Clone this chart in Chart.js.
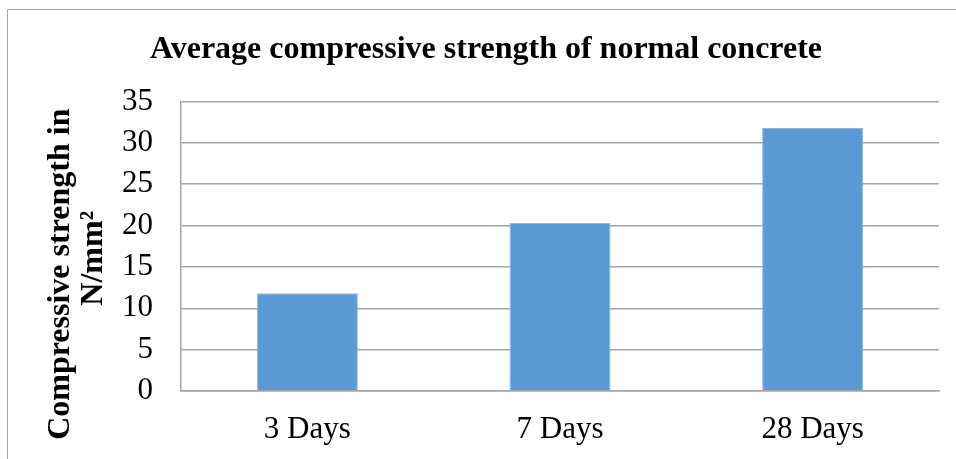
<!DOCTYPE html>
<html>
<head>
<meta charset="utf-8">
<script src="https://cdn.jsdelivr.net/npm/chart.js@4"></script>
<style>
  body { margin: 0; background: #fff; }
  #wrap { position: relative; width: 956px; height: 459px; }
  #frame { position: absolute; left: 7px; top: 9px; right: 0; bottom: 0;
           border-left: 1px solid #a6a6a6; border-top: 1px solid #a6a6a6; }
  canvas { position: absolute; left: 0; top: 0; }
</style>
</head>
<body>
<div id="wrap">
  <div id="frame"></div>
  <canvas id="myChart" width="956" height="459"></canvas>
</div>
<script>
var categories = ['3 Days', '7 Days', '28 Days'];
var strength = [11.8, 20.3, 31.8];
var yTicks = [0, 5, 10, 15, 20, 25, 30, 35];

var serif = "'Liberation Serif', 'Times New Roman', serif";

var ctx = document.getElementById('myChart').getContext('2d');
var myChart = new Chart(ctx, {
    type: 'bar',
    data: {
        labels: categories,
        datasets: [{
            label: 'Compressive strength',
            data: strength,
            backgroundColor: '#5b9bd5',
            borderColor: '#8db8e4',
            borderWidth: 1,
            barPercentage: 0.4,
            categoryPercentage: 1.0
        }]
    },
    options: {
        responsive: false,
        animation: false,
        layout: { padding: { left: 33, right: 17, top: 0, bottom: 0 } },
        plugins: {
            legend: { display: false },
            tooltip: { enabled: false },
            title: {
                display: true,
                text: 'Average compressive strength of normal concrete',
                color: '#000',
                font: { family: serif, size: 32, weight: 'bold', lineHeight: 1.2 },
                padding: { top: 31, bottom: 32 }
            }
        },
        scales: {
            x: {
                grid: { display: false, drawTicks: false },
                border: { display: true, color: '#a6a6a6', width: 1.5 },
                ticks: {
                    color: '#000',
                    font: { family: serif, size: 31 },
                    padding: 20
                },
                afterFit: function (scale) { scale.height = 68; }
            },
            y: {
                min: yTicks[0],
                max: yTicks[yTicks.length - 1],
                ticks: {
                    stepSize: yTicks[1] - yTicks[0],
                    color: '#000',
                    font: { family: serif, size: 31 },
                    padding: 28
                },
                grid: { color: '#a6a6a6', lineWidth: 1.5, drawTicks: false },
                border: { display: true, color: '#a6a6a6', width: 1.5 },
                title: {
                    display: true,
                    text: ['Compressive strength in\u00a0\u00a0\u00a0\u00a0\u00a0\u00a0\u00a0',
                           'N/mm\u00b2\u00a0\u00a0\u00a0'],
                    color: '#000',
                    font: { family: serif, size: 32, weight: 'bold', lineHeight: 1.03 },
                    padding: { top: 11, bottom: 0 }
                },
                afterFit: function (scale) { scale.width = 148; }
            }
        }
    }
});
</script>
</body>
</html>
